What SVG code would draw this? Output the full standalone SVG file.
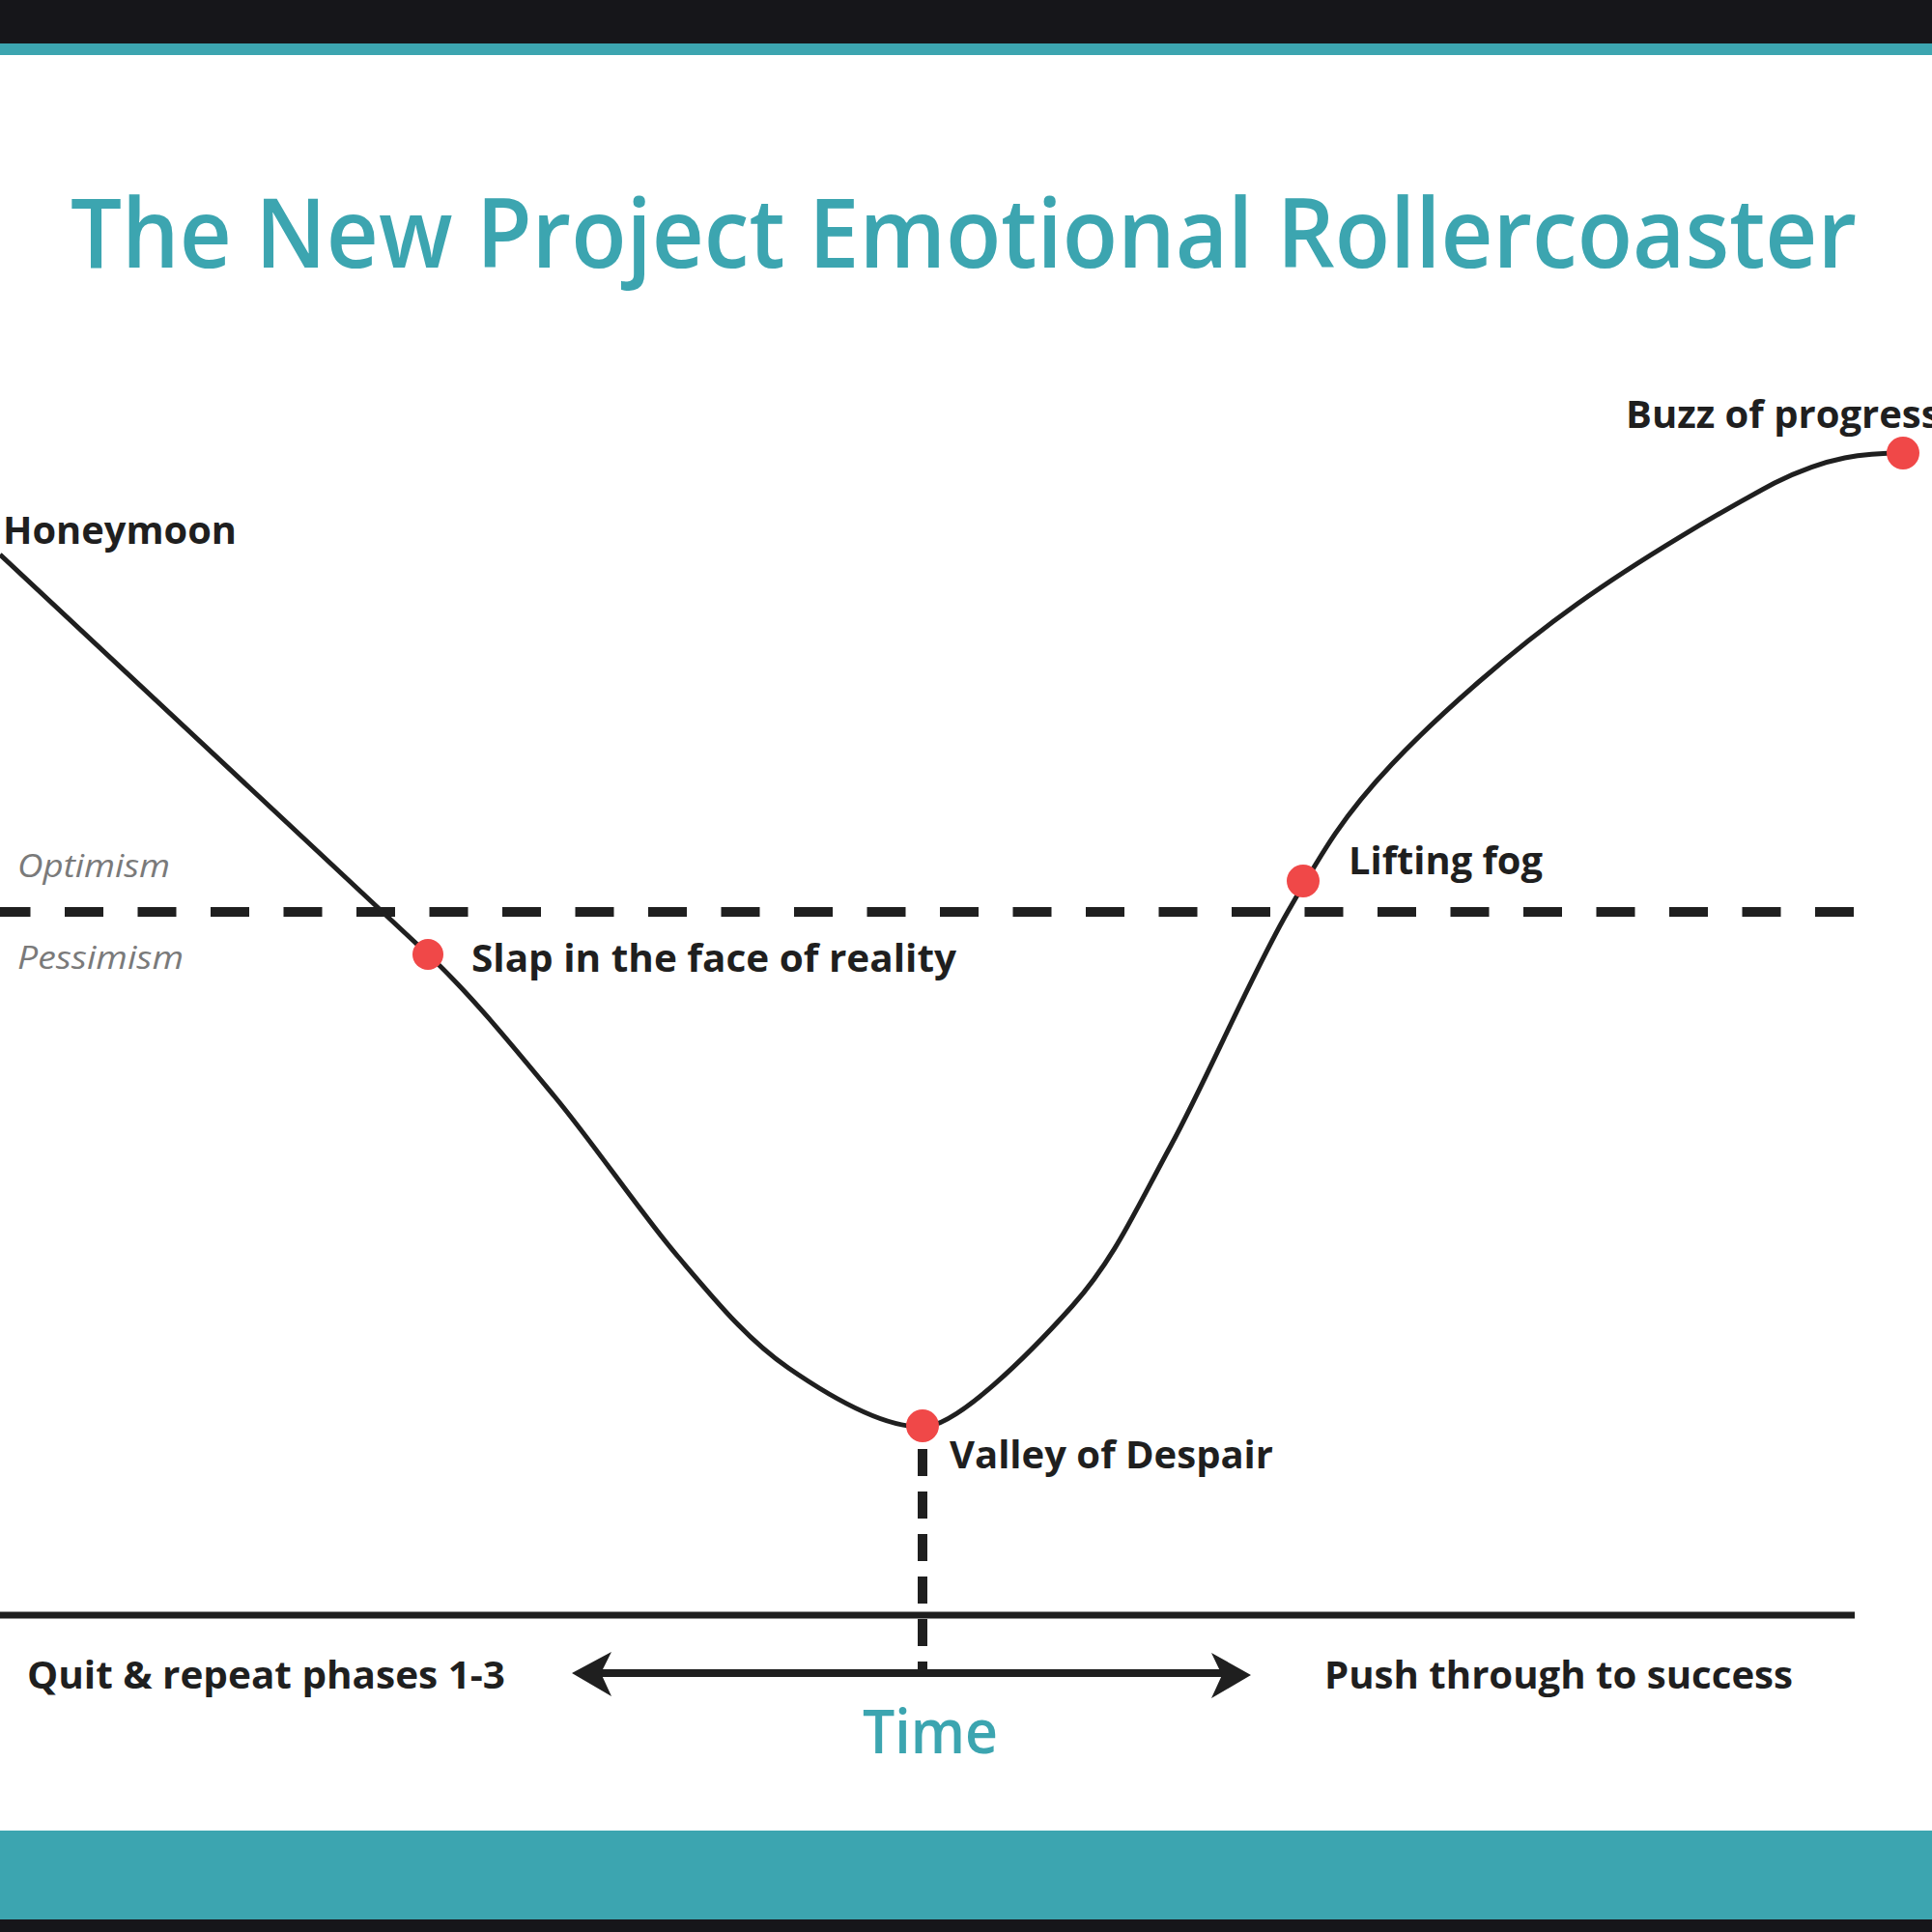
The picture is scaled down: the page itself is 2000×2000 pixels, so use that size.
<svg xmlns="http://www.w3.org/2000/svg" width="2000" height="2000" viewBox="0 0 2000 2000">
<defs>
<style>
.lbl{font-family:"Open Sans","Liberation Sans",sans-serif;font-weight:700;font-size:40px;fill:#1f1f1f}
.zone{font-family:"Open Sans","Liberation Sans",sans-serif;font-style:italic;font-size:32px;fill:#7a7a7a}
.teal{font-family:"Open Sans","Liberation Sans",sans-serif;font-weight:600;fill:#3ca5b0}
.dot{fill:#f04848}
.ink{stroke:#1f1f1f;fill:none}
</style>
</defs>
<rect x="0" y="0" width="2000" height="2000" fill="#ffffff"/>
<rect x="0" y="0" width="2000" height="45" fill="#16161a"/>
<rect x="0" y="45" width="2000" height="12" fill="#3ca5b0"/>
<rect x="0" y="1895" width="2000" height="92" fill="#3ca5b0"/>
<rect x="0" y="1987" width="2000" height="13" fill="#16161a"/>

<g id="title">
<text class="teal" x="73" y="277" font-size="100" textLength="1849" lengthAdjust="spacingAndGlyphs">The New Project Emotional Rollercoaster</text>
</g>

<g id="connectors">
<line id="threshold" class="ink" x1="0" y1="944" x2="1922" y2="944" stroke-width="10" stroke-dasharray="40 35.5" stroke-dashoffset="8.5"/>
<line id="time-axis" class="ink" x1="0" y1="1672" x2="1920" y2="1672" stroke-width="7"/>
<path id="curve" class="ink" stroke-width="5" d="M0,574 L443,988 C486,1028 531,1083 574,1135 C617,1187 662,1254 702,1301 C742,1348 774,1387 816,1416 C858,1445 915,1478 955,1477 C990,1478 1067,1400 1110,1352 C1153,1304 1175,1254 1212,1186 C1249,1118 1295,1010 1333,944 C1371,878 1391,844 1441,791 C1491,738 1567,672 1633,625 C1699,578 1781,530 1837,500 C1893,472 1930,469 1971,469"/>
<line id="valley-drop" class="ink" x1="955" y1="1492" x2="955" y2="1735" stroke-width="10" stroke-dasharray="28 16" stroke-dashoffset="-8"/>
<line id="time-arrow" class="ink" x1="612" y1="1732" x2="1280" y2="1732" stroke-width="8"/>
<path d="M592,1732 L633,1710 L622,1732 L633,1756 Z" fill="#1f1f1f"/>
<path d="M1295,1734 L1254,1711 L1265,1734 L1254,1758 Z" fill="#1f1f1f"/>
</g>

<g id="zone-optimism"><text class="zone" x="18" y="908" textLength="158" lengthAdjust="spacingAndGlyphs">Optimism</text></g>
<g id="zone-pessimism"><text class="zone" x="18" y="1003" textLength="172" lengthAdjust="spacingAndGlyphs">Pessimism</text></g>

<g id="honeymoon"><text class="lbl" x="3" y="563" textLength="242" lengthAdjust="spacingAndGlyphs">Honeymoon</text></g>
<g id="slap"><circle class="dot" cx="443" cy="988" r="16"/><text class="lbl" x="488" y="1006" textLength="502" lengthAdjust="spacingAndGlyphs">Slap in the face of reality</text></g>
<g id="valley"><circle class="dot" cx="955" cy="1476" r="17"/><text class="lbl" x="983" y="1520" textLength="335" lengthAdjust="spacingAndGlyphs">Valley of Despair</text></g>
<g id="lifting-fog"><circle class="dot" cx="1349" cy="912" r="17"/><text class="lbl" x="1396" y="905" textLength="201" lengthAdjust="spacingAndGlyphs">Lifting fog</text></g>
<g id="buzz"><circle class="dot" cx="1970" cy="469" r="17"/><text class="lbl" x="1683" y="443">Buzz of progress</text></g>

<g id="quit"><text class="lbl" x="28" y="1748" textLength="495" lengthAdjust="spacingAndGlyphs">Quit &amp; repeat phases 1-3</text></g>
<g id="push"><text class="lbl" x="1371" y="1748" textLength="485" lengthAdjust="spacingAndGlyphs">Push through to success</text></g>
<g id="time"><text class="teal" x="893" y="1815" font-size="64" textLength="140" lengthAdjust="spacingAndGlyphs">Time</text></g>
</svg>
